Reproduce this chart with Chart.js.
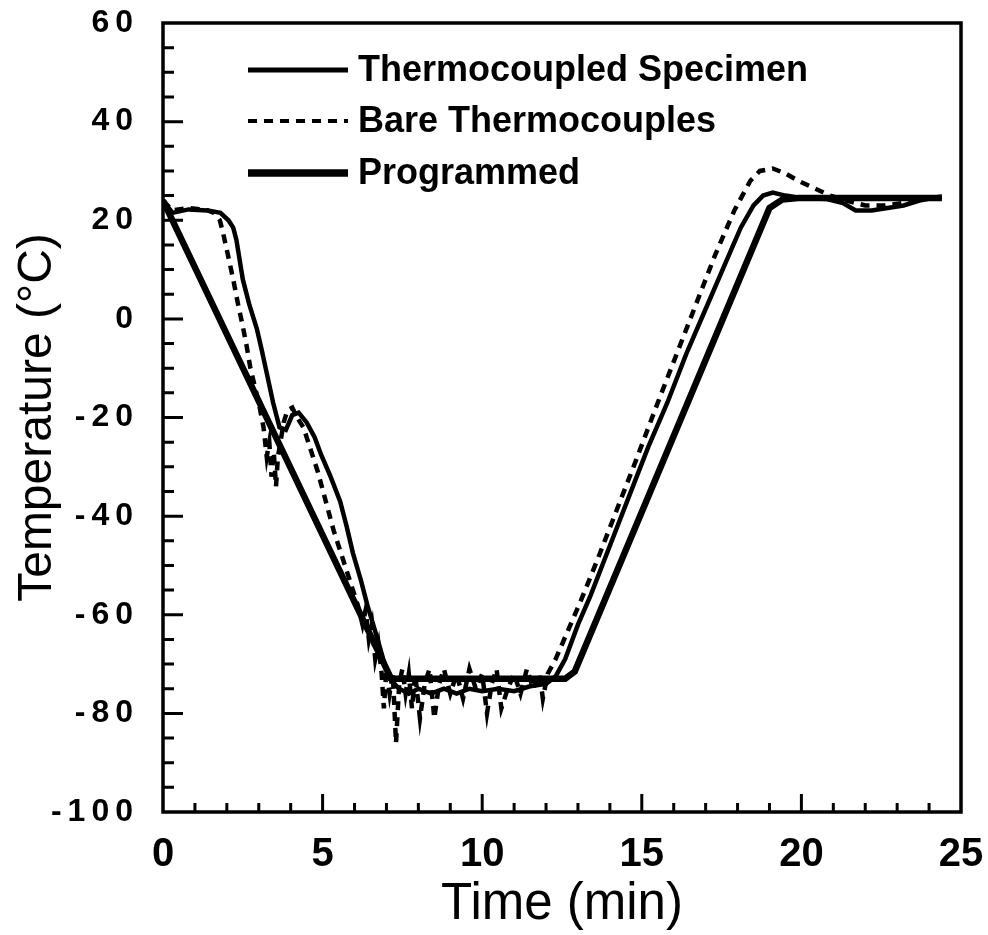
<!DOCTYPE html>
<html>
<head>
<meta charset="utf-8">
<script src="https://cdn.jsdelivr.net/npm/chart.js@4.4.1/dist/chart.umd.min.js"></script>
<style>
  html, body { margin: 0; padding: 0; background: #fff; }
  #wrap { width: 988px; height: 935px; }
</style>
</head>
<body>
<div id="wrap"><canvas id="tempChart"></canvas></div>
<script>
// values (time in min, temperature in degC)
var progTime = [0, 7.15, 12.6, 12.9, 19.0, 19.4, 19.9, 24.4];
var progTemp = [24, -73, -73, -71.5, 22.5, 24.2, 24.5, 24.5];

var specTime = [0, 0.3, 0.8, 1.4, 1.8, 2.05, 2.2, 2.3, 2.4, 2.5, 2.7, 2.94, 3.1, 3.25, 3.45, 3.65, 3.85, 4.05, 4.25, 4.5,
                4.75, 4.95, 5.25, 5.55, 5.75, 5.95, 6.2, 6.4, 6.7, 6.9, 7.1, 7.4, 7.7, 8.0, 8.4, 8.8, 9.2, 9.6, 10.0, 10.5,
                11.0, 11.5, 12.0, 12.3, 12.6, 13.0, 13.4, 14.0, 14.6, 15.2, 15.8, 16.4, 17.0, 17.6, 18.1, 18.5, 18.8, 19.1, 19.5, 20.0,
                20.8, 21.3, 21.7, 22.2, 22.7, 23.2, 23.7, 24.1, 24.4];
var specTemp = [24, 21.5, 22.2, 22, 21.5, 20, 18.5, 16, 12, 8, 3, -2, -6.5, -11, -17, -22, -22.5, -19.5, -19, -21,
                -24, -27.5, -32, -37, -42, -47.5, -53, -58, -64.5, -69, -73, -75, -76, -75, -76, -75, -76, -75, -75.5, -75,
                -75.5, -74.5, -74, -72.5, -69, -62, -56, -46, -36, -26, -17, -7, 2, 11, 18.5, 23, 25, 25.6, 25, 24.5,
                24.3, 23.5, 22, 22, 22.5, 23, 24, 24.5, 24.8];

var bareTime = [0, 0.3, 0.8, 1.4, 1.6, 1.78, 1.88, 2.05, 2.2, 2.35, 2.5, 2.62, 2.73, 2.85, 3.0, 3.15, 3.25, 3.33, 3.4, 3.47,
                3.54, 3.6, 3.68, 3.78, 3.9, 4.05, 4.2, 4.4, 4.6, 4.85, 5.1, 5.35, 5.6, 5.85, 6.1, 6.25, 6.35, 6.45, 6.55, 6.65,
                6.75, 6.85, 6.92, 7.0, 7.1, 7.2, 7.3, 7.4, 7.5, 7.6, 7.7, 7.8, 7.9, 8.05, 8.2, 8.35, 8.5, 8.65, 8.8, 9.0,
                9.2, 9.4, 9.6, 9.8, 10.0, 10.15, 10.3, 10.45, 10.6, 10.8, 11.0, 11.2, 11.4, 11.6, 11.8, 11.9, 12.05, 12.3, 12.7, 13.1,
                13.6, 14.2, 14.8, 15.5, 16.1, 16.7, 17.3, 17.9, 18.4, 18.7, 19.1, 19.5, 19.9, 20.4, 20.9, 21.4, 22.0, 22.6, 23.2, 23.8, 24.4];
var bareTemp = [24, 22, 22.5, 22, 21.5, 20, 17.5, 12.5, 8, 3, -1.5, -5.5, -9.7, -13, -17, -22, -28, -25, -32, -27,
                -34, -28, -25, -21, -18.5, -18, -20, -22, -26, -31, -37, -43, -48, -53, -58, -62, -59, -65, -62, -69,
                -66, -72, -79, -71, -76, -72, -86, -74, -71, -76, -72, -79, -72, -81, -74, -71, -81, -74, -71, -76,
                -72, -77, -71, -75, -72, -80, -74, -71, -79, -75, -72, -76, -71, -75, -72, -77, -72, -69, -63, -57,
                -49, -39, -29, -17, -7, 3, 13, 22, 28, 30, 30.5, 29.5, 28, 26.5, 25, 24, 23, 23, 23.5, 24.3, 24.5];

var xTicks = [0, 5, 10, 15, 20, 25];
var yTicks = [60, 40, 20, 0, -20, -40, -60, -80, -100];

var seriesNames = ["Thermocoupled Specimen", "Bare Thermocouples", "Programmed"];

var FONT = "'Liberation Sans', Arial, Helvetica, sans-serif";

function pairs(xs, ys) {
    var out = [];
    for (var i = 0; i < xs.length; i++) out.push({x: xs[i], y: ys[i]});
    return out;
}

// box round the plot plus inward minor/major ticks
var frameTicks = {
    id: 'frameTicks',
    beforeDatasetsDraw: function(chart) {
        var ctx = chart.ctx, a = chart.chartArea;
        var xs = chart.scales.x, ys = chart.scales.y;
        ctx.save();
        ctx.strokeStyle = '#000';
        ctx.lineWidth = 3;
        ctx.beginPath();
        for (var t = 1; t < 25; t++) {
            var px = xs.getPixelForValue(t);
            var len = (t % 5 === 0) ? 18 : 9;
            ctx.moveTo(px, a.bottom);
            ctx.lineTo(px, a.bottom - len);
        }
        for (var v = -95; v < 60; v += 5) {
            var py = ys.getPixelForValue(v);
            var l2 = (v % 20 === 0) ? 20 : 11;
            ctx.moveTo(a.left, py);
            ctx.lineTo(a.left + l2, py);
        }
        ctx.stroke();
        ctx.lineWidth = 3.5;
        ctx.strokeRect(a.left, a.top, a.right - a.left, a.bottom - a.top);
        ctx.restore();
    },
    afterDatasetsDraw: function(chart) {
        // y tick labels are drawn after this (ticks.z = 1), spaced out like the original
        chart.ctx.letterSpacing = '6px';
    },
    afterDraw: function(chart) {
        var ctx = chart.ctx;
        ctx.letterSpacing = '0px';
        // legend inside the plot, upper left
        var rows = [70, 121, 173];
        ctx.save();
        ctx.font = "bold 36px " + FONT;
        ctx.textBaseline = 'middle';
        ctx.fillStyle = '#000';
        chart.data.datasets.forEach(function(ds, i) {
            ctx.strokeStyle = '#000';
            ctx.lineWidth = ds.legendWidth;
            ctx.setLineDash(ds.borderDash || []);
            ctx.beginPath();
            ctx.moveTo(248, rows[i]);
            ctx.lineTo(348, rows[i]);
            ctx.stroke();
            ctx.setLineDash([]);
            ctx.fillText(ds.label, 358, rows[i] + 1);
        });
        ctx.restore();
    }
};

function noEdgePad(scale) {
    scale.paddingLeft = 0;
    scale.paddingRight = 0;
    scale.paddingTop = 0;
    scale.paddingBottom = 0;
}

var ctx = document.getElementById('tempChart');

new Chart(ctx, {
    type: 'scatter',
    data: {
        datasets: [
            {
                label: seriesNames[0],
                data: pairs(specTime, specTemp),
                showLine: true,
                borderColor: '#000',
                borderWidth: 4.5,
                legendWidth: 5,
                pointRadius: 0,
                tension: 0
            },
            {
                label: seriesNames[1],
                data: pairs(bareTime, bareTemp),
                showLine: true,
                borderColor: '#000',
                borderWidth: 4.5,
                borderDash: [9, 7],
                legendWidth: 4,
                pointRadius: 0,
                tension: 0
            },
            {
                label: seriesNames[2],
                data: pairs(progTime, progTemp),
                showLine: true,
                borderColor: '#000',
                borderWidth: 6.5,
                legendWidth: 7.5,
                pointRadius: 0,
                tension: 0
            }
        ]
    },
    options: {
        responsive: true,
        maintainAspectRatio: false,
        animation: false,
        layout: { padding: { top: 23, right: 27, left: 0, bottom: 0 } },
        plugins: {
            legend: { display: false },
            tooltip: { enabled: false }
        },
        scales: {
            x: {
                type: 'linear',
                min: 0,
                max: 25,
                afterBuildTicks: function(scale) {
                    scale.ticks = xTicks.map(function(v) { return {value: v}; });
                },
                afterFit: function(scale) { scale.height = 123; noEdgePad(scale); },
                grid: { display: false },
                border: { display: false },
                ticks: {
                    color: '#000',
                    padding: 11,
                    maxRotation: 0,
                    autoSkip: false,
                    font: { family: FONT, size: 40, weight: 'bold' }
                },
                title: {
                    display: true,
                    text: 'Time (min)',
                    color: '#000',
                    padding: { top: 0, bottom: 5 },
                    font: { family: FONT, size: 51, lineHeight: 1 }
                }
            },
            y: {
                type: 'linear',
                min: -100,
                max: 60,
                afterBuildTicks: function(scale) {
                    scale.ticks = yTicks.map(function(v) { return {value: v}; });
                },
                afterFit: function(scale) { scale.width = 163; noEdgePad(scale); },
                grid: { display: false },
                border: { display: false },
                ticks: {
                    color: '#000',
                    padding: 16,
                    z: 1,
                    autoSkip: false,
                    font: { family: FONT, size: 32, weight: 'bold' }
                },
                title: {
                    display: true,
                    text: 'Temperature (°C)',
                    color: '#000',
                    padding: { top: 14, bottom: 0 },
                    font: { family: FONT, size: 48, lineHeight: 1 }
                }
            }
        }
    },
    plugins: [frameTicks]
});
</script>
</body>
</html>
